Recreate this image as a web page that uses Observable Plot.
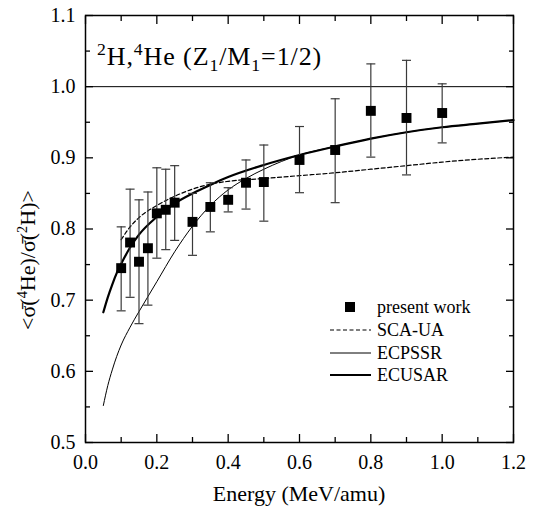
<!DOCTYPE html>
<html><head><meta charset="utf-8">
<script src="https://cdn.jsdelivr.net/npm/d3@7"></script>
<script src="https://cdn.jsdelivr.net/npm/@observablehq/plot@0.6"></script>
<style>
body{margin:0;background:white;}
#chart svg{display:block}
#chart svg text{font-family:"Liberation Serif", "Times New Roman", serif !important;}
</style>
</head><body><div id="chart"></div>
<script>
// measured data (present work)
const energy  = [0.1, 0.125, 0.15, 0.175, 0.2, 0.225, 0.25, 0.3, 0.35, 0.4, 0.45, 0.5, 0.6, 0.7, 0.8, 0.9, 1.0];
const ratio   = [0.745, 0.781, 0.754, 0.773, 0.822, 0.827, 0.837, 0.810, 0.831, 0.841, 0.865, 0.866, 0.897, 0.911, 0.966, 0.956, 0.963];
const errLow  = [0.685, 0.704, 0.667, 0.693, 0.759, 0.771, 0.784, 0.763, 0.796, 0.824, 0.828, 0.811, 0.851, 0.837, 0.901, 0.876, 0.921];
const errHigh = [0.803, 0.856, 0.841, 0.852, 0.886, 0.884, 0.889, 0.850, 0.865, 0.858, 0.897, 0.918, 0.944, 0.983, 1.032, 1.037, 1.004];

// theory curves
const ecusarE = [0.05, 0.0625, 0.075, 0.0875, 0.1, 0.125, 0.15, 0.2, 0.25, 0.3, 0.35, 0.4, 0.5, 0.6, 0.7, 0.8, 0.9, 1.0, 1.1, 1.2];
const ecusarR = [0.683, 0.704, 0.722, 0.738, 0.751, 0.774, 0.792, 0.817, 0.836, 0.850, 0.862, 0.873, 0.890, 0.904, 0.916, 0.927, 0.936, 0.943, 0.948, 0.953];
const ecpssrE = [0.05, 0.0625, 0.075, 0.0875, 0.1, 0.125, 0.15, 0.175, 0.2, 0.25, 0.3, 0.35, 0.4, 0.45, 0.5, 0.55, 0.6, 0.7, 0.8, 0.9, 1.0, 1.1, 1.2];
const ecpssrR = [0.552, 0.580, 0.602, 0.621, 0.637, 0.662, 0.684, 0.705, 0.726, 0.768, 0.804, 0.833, 0.855, 0.871, 0.884, 0.895, 0.904, 0.916, 0.927, 0.936, 0.943, 0.948, 0.953];
const scaE = [0.1, 0.125, 0.15, 0.2, 0.25, 0.3, 0.35, 0.4, 0.5, 0.6, 0.7, 0.8, 0.9, 1.0, 1.1, 1.2];
const scaR = [0.785, 0.803, 0.816, 0.833, 0.846, 0.856, 0.863, 0.867, 0.871, 0.875, 0.879, 0.884, 0.889, 0.894, 0.898, 0.901];

// ticks
const xMajor = [0, 0.2, 0.4, 0.6, 0.8, 1.0, 1.2];
const xMinor = [0.1, 0.3, 0.5, 0.7, 0.9, 1.1];
const yMajor = [0.5, 0.6, 0.7, 0.8, 0.9, 1.0, 1.1];
const yMinor = [0.55, 0.65, 0.75, 0.85, 0.95, 1.05];
const refLine = [1.0];
const legendLabels = ["present work", "SCA-UA", "ECPSSR", "ECUSAR"];

const points = energy.map((e, i) => ({e, r: ratio[i], lo: errLow[i], hi: errHigh[i]}));
const ecusar = ecusarE.map((e, i) => ({e, r: ecusarR[i]}));
const ecpssr = ecpssrE.map((e, i) => ({e, r: ecpssrR[i]}));
const sca = scaE.map((e, i) => ({e, r: scaR[i]}));

const capSymbol = {draw(ctx) { ctx.moveTo(-4.5, 0); ctx.lineTo(4.5, 0); }};
const noText = () => "";
const tk = {tickFormat: noText, label: null, strokeWidth: 1.3};
const serif = "Liberation Serif, Times New Roman, serif";

const plot = Plot.plot({
  width: 538, height: 508,
  marginLeft: 85, marginRight: 25, marginTop: 15, marginBottom: 66,
  style: {fontFamily: serif, fontSize: "20px", color: "black", background: "white", overflow: "visible"},
  x: {domain: [0, 1.2]},
  y: {domain: [0.5, 1.1]},
  marks: [
    Plot.ruleY(refLine, {stroke: "black", strokeWidth: 1}),
    Plot.axisX({anchor: "bottom", ticks: xMajor, tickSize: -8, ...tk}),
    Plot.axisX({anchor: "bottom", ticks: xMinor, tickSize: -5, ...tk}),
    Plot.axisX({anchor: "top", ticks: xMajor, tickSize: -8, ...tk}),
    Plot.axisX({anchor: "top", ticks: xMinor, tickSize: -5, ...tk}),
    Plot.axisY({anchor: "left", ticks: yMajor, tickSize: -8, ...tk}),
    Plot.axisY({anchor: "left", ticks: yMinor, tickSize: -5, ...tk}),
    Plot.axisY({anchor: "right", ticks: yMajor, tickSize: -8, ...tk}),
    Plot.axisY({anchor: "right", ticks: yMinor, tickSize: -5, ...tk}),
    Plot.axisX({anchor: "bottom", ticks: xMajor, tickSize: 0, tickPadding: 12, tickFormat: d3.format(".1f"), label: null, fontSize: 20}),
    Plot.axisY({anchor: "left", ticks: yMajor, tickSize: 0, tickPadding: 10, tickFormat: d3.format(".1f"), label: null, fontSize: 20}),
    Plot.line(sca, {x: "e", y: "r", stroke: "black", strokeWidth: 1.2, strokeDasharray: "4,2.5", curve: "monotone-x"}),
    Plot.line(ecpssr, {x: "e", y: "r", stroke: "black", strokeWidth: 1, curve: "monotone-x"}),
    Plot.line(ecusar, {x: "e", y: "r", stroke: "black", strokeWidth: 2.2, curve: "monotone-x"}),
    Plot.ruleX(points, {x: "e", y1: "lo", y2: "hi", stroke: "#3a3a3a", strokeWidth: 1.2}),
    Plot.dot(points, {x: "e", y: "lo", symbol: capSymbol, fill: "none", stroke: "#3a3a3a", strokeWidth: 1.2}),
    Plot.dot(points, {x: "e", y: "hi", symbol: capSymbol, fill: "none", stroke: "#3a3a3a", strokeWidth: 1.2}),
    Plot.dot(points, {x: "e", y: "r", symbol: "square", fill: "black", stroke: "none", r: 5.6}),
    Plot.frame({stroke: "black", strokeWidth: 1.5})
  ]
});

const svg = d3.select(plot);

function parts(sel, arr, sup, sub, size) {
  let shift = 0;
  for (const [t, kind] of arr) {
    const target = kind === "sup" ? -sup : kind === "sub" ? sub : 0;
    const ts = sel.append("tspan").text(t).attr("dy", target - shift);
    if (kind) ts.attr("font-size", size);
    shift = target;
  }
}

// annotation
const ann = svg.append("text").attr("x", 97).attr("y", 65).attr("text-anchor", "start")
  .attr("font-size", 26).attr("letter-spacing", 0.9).attr("font-family", serif).attr("fill", "black");
parts(ann, [["2", "sup"], ["H,", null], ["4", "sup"], ["He (Z", null], ["1", "sub"], ["/M", null], ["1", "sub"], ["=1/2)", null]], 10, 6, "68%");

// y label
const yl = svg.append("text").attr("transform", "translate(35,260) rotate(-90)").attr("text-anchor", "middle")
  .attr("font-size", 22).attr("font-family", serif).attr("fill", "black");
parts(yl, [["<σ\u0304(", null], ["4", "sup"], ["He)/σ\u0304(", null], ["2", "sup"], ["H)>", null]], 8, 0, "65%");

// x label
svg.append("text").attr("x", 299).attr("y", 501).attr("text-anchor", "middle").attr("font-size", 22)
  .attr("font-family", serif).attr("fill", "black").text("Energy (MeV/amu)");

// legend
const lg = svg.append("g").attr("font-family", serif).attr("font-size", 18).attr("fill", "black").attr("text-anchor", "start");
const rowY = [307, 330, 353, 375];
lg.append("rect").attr("x", 345).attr("y", rowY[0] - 5).attr("width", 10).attr("height", 10).attr("fill", "black");
lg.append("line").attr("x1", 330).attr("x2", 371).attr("y1", rowY[1]).attr("y2", rowY[1]).attr("stroke", "black").attr("stroke-width", 1.2).attr("stroke-dasharray", "4,2.5");
lg.append("line").attr("x1", 330).attr("x2", 371).attr("y1", rowY[2]).attr("y2", rowY[2]).attr("stroke", "black").attr("stroke-width", 1);
lg.append("line").attr("x1", 330).attr("x2", 371).attr("y1", rowY[3]).attr("y2", rowY[3]).attr("stroke", "black").attr("stroke-width", 2.2);
legendLabels.forEach((t, i) => {
  lg.append("text").attr("x", 377).attr("y", rowY[i]).attr("dy", "0.35em").attr("text-anchor", "start").text(t);
});

document.getElementById("chart").appendChild(plot);
</script>
</body></html>
